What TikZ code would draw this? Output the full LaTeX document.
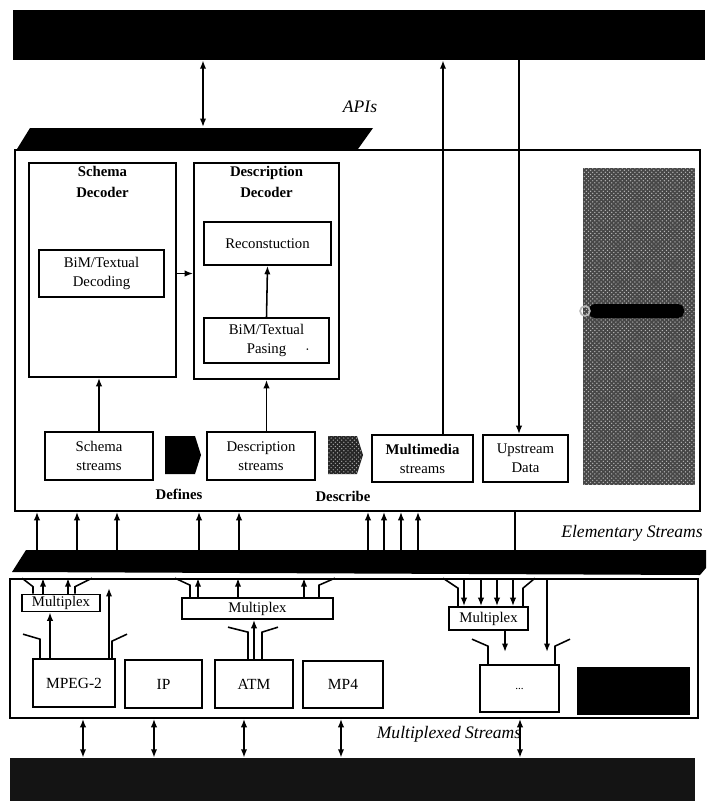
\documentclass[tikz,border=0pt]{standalone}
\usepackage{fontspec}
\setmainfont{Liberation Serif}
\usetikzlibrary{arrows.meta,fit,patterns}

\tikzset{
  box/.style={draw, line width=1.2pt, inner sep=0pt, align=center, font=\fontsize{10.5}{13.5}\selectfont},
  pxbox/.style 2 args={minimum width=#1*0.025cm, minimum height=#2*0.025cm},
  dechead/.style={align=center, inner sep=0pt, font=\bfseries\fontsize{10.5}{15}\selectfont},
  flow/.style={line width=1.1pt, -{Latex[length=6pt,width=4.5pt]}},
  dflow/.style={line width=1.1pt, {Latex[length=6pt,width=4.5pt]}-{Latex[length=6pt,width=4.5pt]}},
  splay/.style={line width=1.1pt},
  caption/.style={inner sep=0pt, font=\itshape\fontsize{12.5}{14}\selectfont},
  blocklbl/.style={inner sep=0pt, font=\bfseries\fontsize{10.5}{12}\selectfont},
}

\begin{document}
\begin{tikzpicture}[x=0.025cm, y=-0.025cm]
  \useasboundingbox (0,0) rectangle (706,803);

  % outer bars
  \node[fit={(13,10) (705,60)}, inner sep=0pt, fill=black] (topbar) {};
  \node[fit={(10,758) (695,801)}, inner sep=0pt, fill=black!92] (botbar) {};

  % decoder box and API bar
  \node[box, fit={(15,150) (700,511)}] (main) {};
  \fill (17,149) -- (30,128) -- (373,128) -- (358,149) -- cycle;
  \coordinate (api) at (203,127);
  \node[caption] (apis) at (360,107) {APIs};
  \draw[dflow] (topbar.south -| api) -- (api);

  % decoders
  \node[box, fit={(29,163) (176,377)}] (schemaDec) {};
  \node[dechead, anchor=north] (schemaT) at ([yshift=-3pt]schemaDec.north) {Schema\\Decoder};
  \node[box, pxbox={125}{47}] (bimDec) at (101.5,273.5) {BiM/Textual\\Decoding};
  \node[box, fit={(194,163) (339,379)}] (descDec) {};
  \node[dechead, anchor=north] (descT) at ([yshift=-3pt]descDec.north) {Description\\Decoder};
  \node[box, pxbox={127}{43}] (recon) at (267.5,243.5) {Reconstuction};
  \node[box, pxbox={125}{45}] (pars) at (266.5,340.5) {BiM/Textual\\Pasing\rlap{\hspace{1.3em}$\cdot$}};
  \draw[flow] (schemaDec.east |- bimDec) -- (descDec.west |- bimDec);
  \draw[flow] (pars.north) -- (recon.south);

  % streams
  \node[box, pxbox={108}{48}] (schemaS) at (99,456) {Schema\\streams};
  \node[box, pxbox={108}{48}] (descS) at (261,456) {Description\\streams};
  \node[box, pxbox={101}{47}] (mmS) at (422.5,458.5) {\textbf{Multimedia}\\streams};
  \node[box, pxbox={85}{47}] (upS) at (525.5,458.5) {Upstream\\Data};
  \draw[flow] (schemaS.north) -- (schemaS.north |- schemaDec.south);
  \draw[flow] (descDec.south |- descS.north) -- (descDec.south);
  \draw[flow] (mmS.north -| 443,0) -- (topbar.south -| 443,0);
  \draw[flow] (topbar.south -| 519,0) -- (upS.north -| 519,0);

  % block arrows
  \fill (165,436) -- (195,436) -- (201,455) -- (195,474) -- (165,474) -- cycle;
  \path[fill=black!85, postaction={pattern=crosshatch dots, pattern color=gray!70}]
    (328,436) -- (357,436) -- (363,455) -- (357,474) -- (328,474) -- cycle;
  \node[blocklbl] (defines) at (179,494) {Defines};
  \node[blocklbl] (describe) at (343,496) {Describe};

  % textured panel
  \path[fill=black!72, postaction={pattern=crosshatch dots, pattern color=gray!55}]
    (583,168) rectangle (695,485);
  \fill[black, rounded corners=4pt] (589,304) rectangle (684,318);
  \draw[gray!55, line width=1.2pt] (585,311) circle [radius=3.5pt];

  % elementary streams
  \fill (12,572) -- (26,550) -- (706,550) -- (706,568) -- (700,575) -- cycle;
  \coordinate (esTop) at (0,550);
  \node[caption, anchor=east] (es) at (703,533) {Elementary Streams};
  \foreach \x in {37,77,117,199,239,368,384,401,418}
    \draw[flow] (\x,0 |- esTop) -- (\x,0 |- main.south);
  \draw[splay] (515,0 |- main.south) -- (515,0 |- esTop);

  % multiplex layer
  \node[box, fit={(10,579) (698,718)}] (lower) {};
  \node[box, pxbox={78}{17}] (muxA) at (61,603) {Multiplex};
  \node[box, pxbox={151}{21}] (muxB) at (257.5,608.5) {Multiplex};
  \node[box, pxbox={79}{23}] (muxC) at (488.5,618.5) {Multiplex};

  \node[box, font=\fontsize{11}{13}\selectfont, pxbox={82}{48}] (mpeg) at (74,683) {MPEG-2};
  \node[box, font=\fontsize{11}{13}\selectfont, pxbox={77}{48}] (ip) at (163.5,684) {IP};
  \node[box, font=\fontsize{11}{13}\selectfont, pxbox={78}{48}] (atm) at (254,684) {ATM};
  \node[box, font=\fontsize{11}{13}\selectfont, pxbox={80}{47}] (mp4) at (343,684.5) {MP4};
  \node[box, font=\fontsize{8}{10}\selectfont, pxbox={79}{47}] (etc) at (519.5,688.5) {...};
  \node[fit={(577,667) (690,715)}, inner sep=0pt, fill=black] (blank) {};

  % fans into the multiplexers
  \draw[splay] (muxA.north -| 33,0) -- ++(0,-7) -- (22,0 |- lower.north);
  \draw[splay] (muxA.north -| 75,0) -- ++(0,-7) -- (92,0 |- lower.north);
  \foreach \x in {43,68}
    \draw[flow] (muxA.north -| \x,0) -- (\x,0 |- lower.north);
  \draw[flow] (mpeg.north -| 50,0) -- (muxA.south -| 50,0);
  \draw[splay] (mpeg.north -| 40,0) -- ++(0,-19) -- ++(-17,-5);
  \draw[splay] (mpeg.north -| 112,0) -- ++(0,-17) -- ++(15,-7);
  \coordinate (mpegOut) at (0,588);
  \draw[flow] (mpeg.north -| 109,0) -- (109,0 |- mpegOut);

  \draw[splay] (muxB.north -| 190,0) -- ++(0,-12) -- (175,0 |- lower.north);
  \draw[splay] (muxB.north -| 319,0) -- ++(0,-12) -- (335,0 |- lower.north);
  \foreach \x in {198,238,304}
    \draw[flow] (muxB.north -| \x,0) -- (\x,0 |- lower.north);
  \draw[flow] (atm.north) -- (atm.north |- muxB.south);
  \draw[splay] (atm.north -| 248,0) -- ++(0,-27) -- ++(-20,-5);
  \draw[splay] (atm.north -| 262,0) -- ++(0,-27) -- ++(16,-5);

  \draw[splay] (muxC.north -| 458,0) -- ++(0,-18) -- (443,0 |- lower.north);
  \draw[splay] (muxC.north -| 523,0) -- ++(0,-18) -- (535,0 |- lower.north);
  \foreach \x in {464,481,497,513}
    \draw[flow] (\x,0 |- lower.north) -- (muxC.north -| \x,0);
  \coordinate (etcIn) at (0,652);
  \draw[flow] (muxC.south -| 505,0) -- (505,0 |- etcIn);
  \draw[flow] (547,0 |- lower.north) -- (547,0 |- etcIn);
  \draw[splay] (etc.north -| 488,0) -- ++(0,-18) -- ++(-16,-7);
  \draw[splay] (etc.north -| 555,0) -- ++(0,-18) -- ++(15,-7);

  % multiplexed streams
  \foreach \x in {83,154,244,341,520}
    \draw[dflow] (\x,0 |- lower.south) -- (\x,0 |- botbar.north);
  \node[caption] (mstreams) at (449,734) {Multiplexed Streams};
\end{tikzpicture}
\end{document}
